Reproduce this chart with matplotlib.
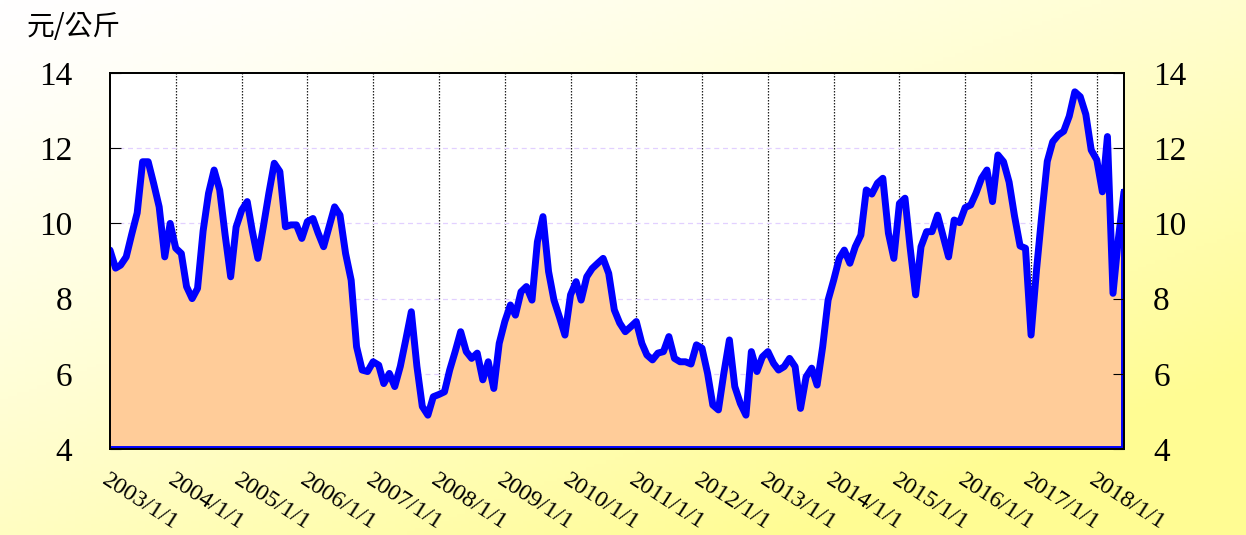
import numpy as np
import pandas as pd
import matplotlib
matplotlib.use("Agg")
import matplotlib.pyplot as plt
import matplotlib.transforms as mtransforms

# monthly price, 2003/1 .. 2018/6 (元/公斤)
start_month = "2003-01-01"
price = [
    9.29, 8.81, 8.89, 9.11, 9.70, 10.28, 11.64, 11.64, 11.05, 10.44, 9.11, 10.00,   # 2003
    9.34, 9.20, 8.32, 8.00, 8.27, 9.80, 10.80, 11.42, 10.89, 9.70, 8.58, 9.90,      # 2004
    10.35, 10.58, 9.80, 9.07, 9.90, 10.80, 11.60, 11.38, 9.91, 9.96, 9.96, 9.60,    # 2005
    10.05, 10.13, 9.75, 9.38, 9.90, 10.44, 10.22, 9.20, 8.49, 6.72, 6.10, 6.06,     # 2006
    6.32, 6.23, 5.74, 6.01, 5.66, 6.20, 6.90, 7.65, 6.20, 5.13, 4.90, 5.39,         # 2007
    5.45, 5.52, 6.10, 6.60, 7.12, 6.59, 6.41, 6.55, 5.84, 6.32, 5.61, 6.81,         # 2008
    7.39, 7.83, 7.56, 8.18, 8.32, 7.96, 9.51, 10.18, 8.72, 7.96, 7.50, 7.03,        # 2009
    8.10, 8.45, 7.96, 8.58, 8.80, 8.94, 9.07, 8.67, 7.70, 7.35, 7.12, 7.25,         # 2010
    7.39, 6.81, 6.50, 6.37, 6.55, 6.59, 6.99, 6.41, 6.32, 6.32, 6.26, 6.77,         # 2011
    6.68, 6.01, 5.17, 5.04, 6.01, 6.90, 5.66, 5.21, 4.90, 6.59, 6.06, 6.45,         # 2012
    6.59, 6.28, 6.10, 6.19, 6.41, 6.19, 5.08, 5.92, 6.15, 5.70, 6.72, 7.96,         # 2013
    8.49, 9.07, 9.29, 8.94, 9.38, 9.69, 10.89, 10.78, 11.07, 11.20, 9.74, 9.07,     # 2014
    10.53, 10.67, 9.38, 8.10, 9.38, 9.78, 9.78, 10.22, 9.65, 9.11, 10.09, 10.02,    # 2015
    10.42, 10.49, 10.80, 11.20, 11.42, 10.58, 11.82, 11.64, 11.10, 10.20, 9.40, 9.34,  # 2016
    7.03, 8.80, 10.20, 11.65, 12.17, 12.35, 12.45, 12.85, 13.50, 13.37, 12.90, 11.95,  # 2017
    11.69, 10.84, 12.31, 8.14, 9.60, 10.84,                                          # 2018
]
years = list(range(2003, 2019))
year_labels = [f"{y}/1/1" for y in years]
y_ticks = [4, 6, 8, 10, 12, 14]
unit_label = "元/公斤"

dates = pd.date_range(start_month, periods=len(price), freq="MS")
year_ticks = pd.to_datetime([f"{y}-01-01" for y in years])

W, H = 1246, 535
fig = plt.figure(figsize=(W / 100, H / 100), dpi=100)

# background gradient: white top-left -> pale yellow bottom-right
bg = fig.add_axes([0, 0, 1, 1], zorder=-10)
gx, gy = np.meshgrid(np.linspace(0, 1, 300), np.linspace(0, 1, 150))
t = np.clip((gx * 0.55 + gy * 0.65), 0, 1) ** 1.3
img = np.ones((150, 300, 3))
img[..., 2] = 1.0 - t * (1.0 - 0.58)
img[..., 1] = 1.0 - t * 0.01
bg.imshow(img, aspect="auto", extent=[0, 1, 0, 1], origin="upper")
bg.axis("off")

ax = fig.add_axes([110 / W, 1 - 449 / H, (1124 - 110) / W, (449 - 73) / H])
ax.set_facecolor("white")

ax.fill_between(dates, price, 4, facecolor="#FFCC99", edgecolor="none", zorder=2)
ax.plot(dates, price, color="#0000FF", lw=5, solid_joinstyle="round",
        solid_capstyle="round", zorder=3)
# area outline along the bottom and right edge
ax.plot([dates[0], dates[-1]], [4, 4], color="#0000FF", lw=5, zorder=3)
ax.plot([dates[-1], dates[-1]], [4, price[-1]], color="#0000FF", lw=5, zorder=3)

ax.set_xlim(dates[0], dates[-1])
ax.set_ylim(4, 14)

# grid
for d in year_ticks[1:]:
    ax.axvline(d, color="#222222", lw=0.9, ls=(0, (1.2, 1.2)), zorder=1)
for v in y_ticks[1:-1]:
    ax.axhline(v, color="#E2D0FF", lw=0.9, ls=(0, (4, 3)), zorder=1)

ax.set_xticks(year_ticks)
ax.set_xticklabels(year_labels, rotation=-33, rotation_mode="anchor",
                   ha="left", va="top", fontsize=17.5,
                   fontfamily="Liberation Serif")
offset = mtransforms.ScaledTranslation(-1 / 100, 0, fig.dpi_scale_trans)
for lab in ax.get_xticklabels():
    lab.set_transform(lab.get_transform() + offset)
ax.tick_params(axis="x", direction="in", length=8, pad=15, colors="black")

ax.set_yticks(y_ticks)
ax.set_yticklabels([str(v) for v in y_ticks], fontsize=24,
                   fontfamily="Liberation Serif")
ax.tick_params(axis="y", direction="in", length=8, pad=27)

ax2 = ax.twinx()
ax2.set_ylim(4, 14)
ax2.set_yticks(y_ticks)
ax2.set_yticklabels([str(v) for v in y_ticks], fontsize=24,
                    fontfamily="Liberation Serif")
ax2.tick_params(axis="y", direction="in", length=8, pad=21)

for a in (ax, ax2):
    for s in a.spines.values():
        s.set_color("black")
        s.set_linewidth(1.3)
        s.set_zorder(5)

fig.text(27 / W, 1 - 27 / H, unit_label, fontsize=20, va="center", ha="left",
         fontfamily=["Noto Sans CJK TC", "DejaVu Sans"])

fig.savefig("out.png", dpi=100)
